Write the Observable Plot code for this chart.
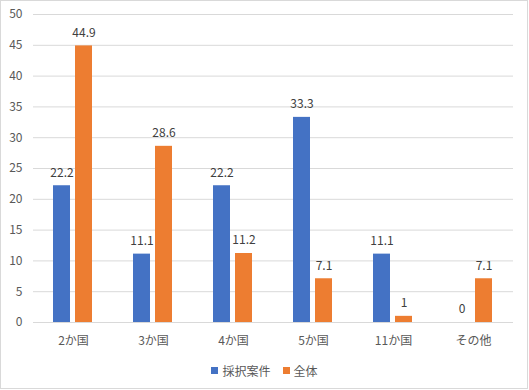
<!DOCTYPE html>
<html>
<head>
<meta charset="utf-8">
<script src="https://cdn.jsdelivr.net/npm/d3@7"></script>
<script src="https://cdn.jsdelivr.net/npm/@observablehq/plot@0.6"></script>
<style>
  body { margin: 0; background: #fff; }
  #wrap { position: relative; width: 529px; height: 390px; overflow: hidden; background: #fff;
          font-family: "Noto Sans CJK JP", "Noto Sans", sans-serif; }
  #frame { position: absolute; left: 0; top: 0; width: 528px; height: 389px; box-sizing: border-box;
           border: 1px solid #d9d9d9; pointer-events: none; }
  #chart { position: absolute; left: 0; top: 0; }
  #legend { position: absolute; left: 0; top: 355px; width: 529px; height: 31px; display: flex;
            justify-content: center; align-items: center; font-size: 12px; color: #595959; }
  .item { display: flex; align-items: center; margin: 0 6px; }
  .sw { width: 7px; height: 7px; margin-right: 4px; }
</style>
</head>
<body>
<div id="wrap">
  <div id="chart"></div>
  <div id="legend"></div>
  <div id="frame"></div>
</div>
<script>
const categories = ["2か国", "3か国", "4か国", "5か国", "11か国", "その他"];
const seriesNames = ["採択案件", "全体"];
const adopted = [22.2, 11.1, 22.2, 33.3, 11.1, 0];
const overall = [44.9, 28.6, 11.2, 7.1, 1, 7.1];
const yTicks = [0, 5, 10, 15, 20, 25, 30, 35, 40, 45, 50];
const colors = ["#4472C4", "#ED7D31"];

const data = categories.flatMap((c, i) => [
  {category: c, series: seriesNames[0], value: adopted[i]},
  {category: c, series: seriesNames[1], value: overall[i]}
]);

const chart = Plot.plot({
  width: 529,
  height: 355,
  marginLeft: 32,
  marginRight: 15,
  marginTop: 14,
  marginBottom: 33,
  style: {fontFamily: "'Noto Sans CJK JP', 'Noto Sans', sans-serif", fontSize: "12px", color: "#595959", background: "transparent"},
  fx: {domain: categories, padding: 0, label: null, axis: "bottom", tickSize: 0, tickPadding: 14},
  x: {domain: seriesNames, axis: null, paddingInner: 0.21, paddingOuter: 0.89},
  y: {domain: [0, 50], ticks: yTicks, label: null, tickSize: 0, tickPadding: 11},
  color: {domain: seriesNames, range: colors},
  marks: [
    Plot.gridY(yTicks, {stroke: "#d9d9d9", strokeOpacity: 1}),
    Plot.barY(data, {fx: "category", x: "series", y: "value", fill: "series"}),
    Plot.text(data, {fx: "category", x: "series", y: "value", text: "value", dy: -13, fill: "#404040"})
  ]
});
document.getElementById("chart").appendChild(chart);

const legend = document.getElementById("legend");
seriesNames.forEach((name, i) => {
  const item = document.createElement("div");
  item.className = "item";
  const sw = document.createElement("div");
  sw.className = "sw";
  sw.style.background = colors[i];
  const label = document.createElement("span");
  label.textContent = name;
  item.appendChild(sw);
  item.appendChild(label);
  legend.appendChild(item);
});
</script>
</body>
</html>
